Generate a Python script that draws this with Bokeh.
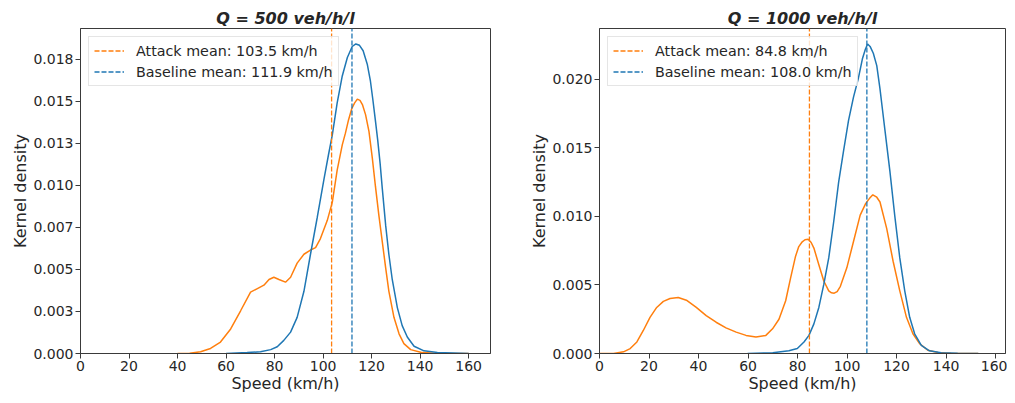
from bokeh.plotting import figure
from bokeh.layouts import row
from bokeh.models import FixedTicker, Range1d
from bokeh.embed import file_html
from bokeh.resources import INLINE

# ---------------- data ----------------
titles = ["Q = 500 veh/h/l", "Q = 1000 veh/h/l"]

# Q = 500
attack500_speed = [40, 45, 49.5, 53.6, 57.7, 61.9, 66.0, 70.1, 72.9, 75.6, 77.7, 79.7, 81.8,
                   84.5, 86.6, 89.3, 92.1, 94.8, 96.9, 98.9, 101.7, 103.8, 105.8, 107.9,
                   109.2, 110.5, 111.8, 113.0, 114.1, 115.2, 116.2, 117.5, 118.9, 120.3,
                   121.6, 123.0, 124.4, 125.8, 127.1, 129.2, 131.3, 133.3, 136.1, 140.2,
                   145.7, 160]
attack500_density = [0, 0.00002, 0.0001, 0.0003, 0.00068, 0.00146, 0.00254, 0.00365, 0.00386,
                     0.00406, 0.0044, 0.00453, 0.0044, 0.00424, 0.00453, 0.00537, 0.0059,
                     0.00615, 0.00629, 0.00683, 0.0079, 0.0090, 0.0109, 0.0124, 0.0131,
                     0.0139, 0.01455, 0.0149, 0.01512, 0.01505, 0.0148, 0.0142, 0.0132,
                     0.0116, 0.0099, 0.0082, 0.00664, 0.00507, 0.00371, 0.00215, 0.00117,
                     0.00059, 0.00023, 0.00008, 0.00001, 0]
base500_speed = [60, 68.7, 74.2, 78.4, 81.1, 83.8, 86.6, 89.3, 92.1, 94.8, 97.6, 100.4, 102.2,
                 103.8, 105.8, 107.9, 110.0, 112.0, 113.5, 115.0, 116.5, 118.2, 119.5, 120.5,
                 121.6, 122.5, 123.5, 124.4, 125.8, 127.1, 128.5, 130.6, 132.6, 134.7, 137.5,
                 141.6, 147.1, 160]
base500_density = [0, 0.00006, 0.0001, 0.00023, 0.0004, 0.00078, 0.00127, 0.00215, 0.0037,
                   0.0059, 0.0081, 0.0104, 0.0118, 0.0130, 0.0149, 0.0165, 0.0176, 0.01825,
                   0.0184, 0.01832, 0.0180, 0.0172, 0.0162, 0.0151, 0.0138, 0.0127, 0.0113,
                   0.0098, 0.0076, 0.0059, 0.0044, 0.00273, 0.00166, 0.00098, 0.00043,
                   0.00016, 0.00006, 0]

# Q = 1000
attack1000_speed = [0, 5.7, 9.7, 12.4, 15.1, 17.7, 20.4, 23.1, 25.8, 28.5, 31.8, 35.1, 39.1,
                    43.1, 47.1, 51.1, 55.2, 59.2, 63.2, 67.2, 69.9, 72.5, 75.2, 77.2, 79.2,
                    80.5, 81.9, 83.0, 84.3, 85.5, 86.6, 88.6, 90.6, 92.6, 93.7, 94.8, 96.0,
                    97.3, 99.9, 102.6, 105.3, 107.5, 109.0, 110.4, 112.0, 113.3, 116.0,
                    118.6, 121.3, 124.0, 126.6, 129.3, 132.6, 136.7, 142, 153]
attack1000_density = [0, 0, 0.00012, 0.00036, 0.00084, 0.00168, 0.00264, 0.00336, 0.0038,
                      0.00401, 0.00408, 0.00389, 0.00336, 0.00276, 0.00228, 0.00187, 0.00156,
                      0.00132, 0.0012, 0.00132, 0.0018, 0.0025, 0.00385, 0.00552, 0.0071,
                      0.0078, 0.00815, 0.0083, 0.00834, 0.0081, 0.00769, 0.00648, 0.00529,
                      0.00457, 0.00443, 0.0044, 0.00452, 0.0049, 0.00625, 0.00817, 0.01009,
                      0.01093, 0.0113, 0.01158, 0.0114, 0.01105, 0.00913, 0.00673, 0.00457,
                      0.00264, 0.00144, 0.00072, 0.00024, 0.00007, 0.00001, 0]
base1000_speed = [59.8, 70, 76.5, 79.9, 82.6, 84.6, 86.6, 88.6, 90.6, 92.6, 94.6, 96.6, 98.6,
                  100.6, 102.6, 104.6, 106.2, 107.4, 108.3, 109.3, 110.6, 112.0, 113.3, 114.3,
                  115.3, 117.3, 119.3, 121.3, 123.3, 125.3, 127.3, 130.0, 133.3, 138.0, 144.7,
                  153]
base1000_density = [0, 0.00005, 0.0002, 0.00036, 0.00084, 0.00132, 0.00216, 0.00336, 0.00504,
                    0.00697, 0.00961, 0.0125, 0.0148, 0.0170, 0.0187, 0.0201, 0.0215, 0.0222,
                    0.02258, 0.0224, 0.0219, 0.0210, 0.0193, 0.0178, 0.0163, 0.0133, 0.0100,
                    0.00697, 0.00457, 0.00264, 0.00144, 0.0006, 0.0002, 0.00005, 0.00001, 0]

attack_means = [103.5, 84.8]
baseline_means = [111.9, 108.0]

x_ticks = [0, 20, 40, 60, 80, 100, 120, 140, 160]
y_ticks500 = [0, 0.0025, 0.005, 0.0075, 0.01, 0.0125, 0.015, 0.0175]
y_labels500 = ["0.000", "0.003", "0.005", "0.007", "0.010", "0.013", "0.015", "0.018"]
y_ticks1000 = [0, 0.005, 0.01, 0.015, 0.02]
y_labels1000 = ["0.000", "0.005", "0.010", "0.015", "0.020"]

# ---------------- styling ----------------
ORANGE = "#ff7f0e"
BLUE = "#1f77b4"
FONT = "DejaVu Sans"
TEXT = "#262626"
SPINE = "#3a3a3a"


def make_panel(title, a_x, a_y, b_x, b_y, a_mean, b_mean, yt, yl, x_end,
               width, border_left, border_right):
    ytop = max(max(a_y), max(b_y)) * 1.05
    p = figure(width=width, height=395, output_backend="svg", toolbar_location=None,
               x_range=Range1d(0, x_end), y_range=Range1d(0, ytop),
               min_border_left=border_left, min_border_right=border_right,
               min_border_top=28, min_border_bottom=41)
    p.title.text = title
    p.title.align = "center"
    p.title.text_font = FONT
    p.title.text_font_size = "16px"
    p.title.text_font_style = "bold italic"
    p.title.text_color = TEXT
    p.title.standoff = 1

    p.xgrid.visible = False
    p.ygrid.visible = False
    p.outline_line_color = SPINE
    p.outline_line_width = 1
    p.background_fill_color = "white"
    p.border_fill_color = "white"

    for ax in (p.xaxis[0], p.yaxis[0]):
        ax.axis_line_color = SPINE
        ax.major_tick_line_color = SPINE
        ax.major_tick_out = 5
        ax.major_tick_in = 0
        ax.minor_tick_line_color = None
        ax.major_label_text_font = FONT
        ax.major_label_text_font_size = "14px"
        ax.major_label_text_color = TEXT
        ax.major_label_standoff = 2
        ax.axis_label_text_font = FONT
        ax.axis_label_text_font_size = "16px"
        ax.axis_label_text_font_style = "normal"
        ax.axis_label_text_color = TEXT
        ax.axis_label_standoff = 0

    p.xaxis[0].ticker = FixedTicker(ticks=x_ticks)
    p.yaxis[0].ticker = FixedTicker(ticks=yt)
    p.yaxis[0].major_label_overrides = {t: l for t, l in zip(yt, yl)}
    p.xaxis[0].axis_label = "Speed (km/h)"
    p.yaxis[0].axis_label = "Kernel density"

    p.line(a_x, a_y, line_color=ORANGE, line_width=1.5)
    p.line(b_x, b_y, line_color=BLUE, line_width=1.5)

    p.line([a_mean, a_mean], [0, ytop], line_color=ORANGE, line_width=1.3,
           line_dash="5 2", legend_label=f"Attack mean: {a_mean:.1f} km/h")
    p.line([b_mean, b_mean], [0, ytop], line_color=BLUE, line_width=1.3,
           line_dash="5 2", legend_label=f"Baseline mean: {b_mean:.1f} km/h")

    lg = p.legend[0]
    lg.location = "top_left"
    lg.margin = 8
    lg.padding = 5
    lg.spacing = 4
    lg.glyph_width = 30
    lg.glyph_height = 17
    lg.label_height = 17
    lg.label_standoff = 12
    lg.label_text_font = FONT
    lg.label_text_font_size = "14.3px"
    lg.label_text_color = TEXT
    lg.border_line_color = "#cccccc"
    lg.border_line_width = 1
    lg.background_fill_alpha = 0.8
    return p


p1 = make_panel(titles[0], attack500_speed, attack500_density, base500_speed, base500_density,
                attack_means[0], baseline_means[0], y_ticks500, y_labels500, 169,
                525, 80, 35)
p2 = make_panel(titles[1], attack1000_speed, attack1000_density, base1000_speed, base1000_density,
                attack_means[1], baseline_means[1], y_ticks1000, y_labels1000, 164,
                482, 74, 2)

layout = row(p1, p2)
open("out.html", "w").write(file_html(layout, INLINE))
